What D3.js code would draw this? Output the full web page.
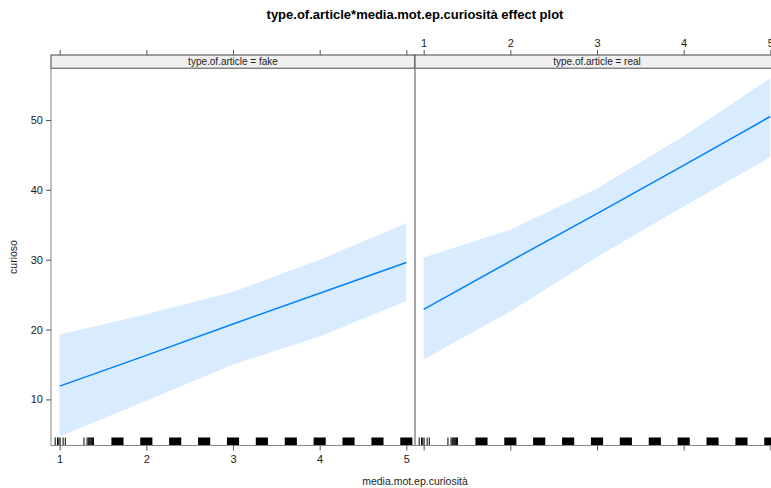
<!DOCTYPE html>
<html><head><meta charset="utf-8">
<script src="https://cdn.jsdelivr.net/npm/d3@7"></script>
<style>body{margin:0;background:#fff}svg{display:block;font-family:"Liberation Sans",Arial,sans-serif}</style>
</head><body><svg id="c" width="771" height="488"></svg>
<script>
const titleText = "type.of.article*media.mot.ep.curiosità effect plot";
const xLabel = "media.mot.ep.curiosità";
const yLabel = "curioso";
const panels = ["fake", "real"];
const xs = [1, 2, 3, 4, 5];
const fit = {fake: [11.9, 16.3, 20.8, 25.2, 29.6], real: [22.9, 29.8, 36.6, 43.5, 50.5]};
const upper = {fake: [19.3, 22.2, 25.4, 30.0, 35.2], real: [30.3, 34.3, 40.2, 47.7, 56.0]};
const lower = {fake: [4.7, 9.8, 15.0, 19.0, 24.1], real: [15.7, 22.6, 30.4, 37.6, 44.7]};
const xTicks = [1, 2, 3, 4, 5];
const yTicks = [10, 20, 30, 40, 50];
const rugSparse = [0.948, 0.975, 0.99, 1.005, 1.04, 1.065, 1.28, 1.316, 1.33, 1.34, 1.35, 1.36, 1.37, 1.38, 1.39];
const rugDense = [1.667, 2, 2.333, 2.667, 3, 3.333, 3.667, 4, 4.333, 4.667, 5];
const rugJitter = 0.07;

const svg = d3.select("#c");
const L = 51, panelW = 364, T = 55, stripH = 13.3, B = 445.5;
const y = d3.scaleLinear().domain([3.4, 57.4]).range([B, T + stripH]);

svg.append("text").attr("x", 415).attr("y", 19).attr("text-anchor", "middle")
  .attr("font-weight", "bold").attr("font-size", 13).attr("fill", "#000").text(titleText);

panels.forEach((p, i) => {
  const x0 = L + i * panelW;
  const x = d3.scaleLinear().domain([0.9, 5.1]).range([x0, x0 + panelW]);
  const g = svg.append("g");
  const clipId = "clip" + i;
  svg.append("clipPath").attr("id", clipId).append("rect")
    .attr("x", x0).attr("y", T + stripH).attr("width", panelW).attr("height", B - T - stripH);
  const pg = g.append("g").attr("clip-path", `url(#${clipId})`);
  const pts = xs.map((v, k) => ({x: v, f: fit[p][k], u: upper[p][k], l: lower[p][k]}));
  pg.append("path").datum(pts).attr("fill", "#D9ECFF")
    .attr("d", d3.area().x(d => x(d.x)).y0(d => y(d.l)).y1(d => y(d.u)));
  pg.append("path").datum(pts).attr("fill", "none").attr("stroke", "#0080FF").attr("stroke-width", 1.5)
    .attr("d", d3.line().x(d => x(d.x)).y(d => y(d.f)));
  pg.selectAll(".rs").data(rugSparse).enter().append("line")
    .attr("x1", d => x(d)).attr("x2", d => x(d)).attr("y1", B - 8).attr("y2", B)
    .attr("stroke", "#000").attr("stroke-width", 1);
  pg.selectAll(".rd").data(rugDense).enter().append("rect")
    .attr("x", d => x(d - rugJitter)).attr("width", d => x(d + rugJitter) - x(d - rugJitter))
    .attr("y", B - 8).attr("height", 8).attr("fill", "#000");
  g.append("rect").attr("x", x0).attr("y", T).attr("width", panelW).attr("height", stripH)
    .attr("fill", "#F0F0F0").attr("stroke", "#444").attr("stroke-width", 1);
  g.append("text").attr("x", x0 + panelW / 2).attr("y", T + stripH / 2 + 3.5).attr("text-anchor", "middle")
    .attr("font-size", 10).attr("fill", "#222").text("type.of.article = " + p);
  g.append("rect").attr("x", x0).attr("y", T + stripH).attr("width", panelW).attr("height", B - T - stripH)
    .attr("fill", "none").attr("stroke", "#888").attr("stroke-width", 1);
  const bt = g.append("g").attr("transform", `translate(0,${B})`)
    .call(d3.axisBottom(x).tickValues(xTicks).tickSize(5).tickFormat(i === 0 ? d3.format("d") : ""));
  bt.select(".domain").remove();
  bt.selectAll("line").attr("stroke", "#555");
  bt.selectAll("text").attr("font-size", 11).attr("fill", "#222").attr("dy", "0.9em").attr("font-family", "Liberation Sans, Arial");
  const tt = g.append("g").attr("transform", `translate(0,${T})`)
    .call(d3.axisTop(x).tickValues(xTicks).tickSize(5).tickFormat(i === 1 ? d3.format("d") : ""));
  tt.select(".domain").remove();
  tt.selectAll("line").attr("stroke", "#555");
  tt.selectAll("text").attr("font-size", 11).attr("fill", "#222").attr("font-family", "Liberation Sans, Arial");
});

const ya = svg.append("g").attr("transform", `translate(${L},0)`)
  .call(d3.axisLeft(y).tickValues(yTicks).tickSize(5).tickFormat(d3.format("d")));
ya.select(".domain").remove();
ya.selectAll("line").attr("stroke", "#555");
ya.selectAll("text").attr("font-size", 11).attr("fill", "#222").attr("font-family", "Liberation Sans, Arial");

svg.append("text").attr("x", 415).attr("y", 485).attr("text-anchor", "middle")
  .attr("font-size", 10.5).attr("fill", "#222").text(xLabel);
svg.append("text").attr("transform", "translate(17,257) rotate(-90)").attr("text-anchor", "middle")
  .attr("font-size", 10.5).attr("fill", "#222").text(yLabel);
</script></body></html>
